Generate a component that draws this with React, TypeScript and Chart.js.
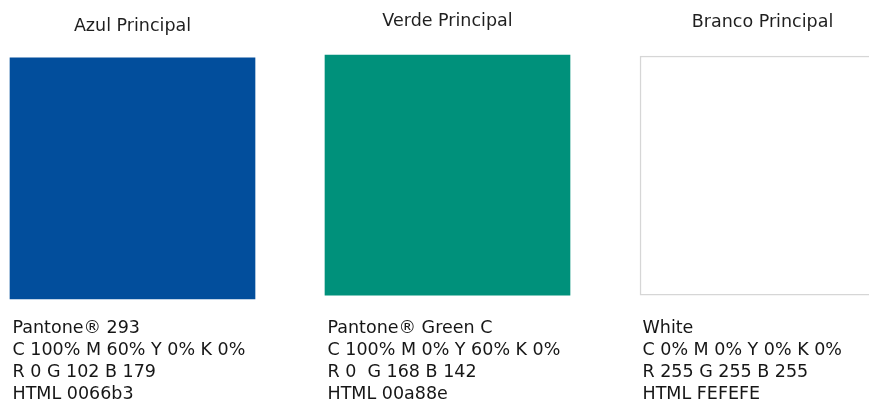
import React, { useEffect, useRef } from 'react';
import { Chart, registerables } from 'chart.js';

Chart.register(...registerables);

// ---- data ----
const swatchNames = ['Azul Principal', 'Verde Principal', 'Branco Principal'];
const swatchColors = ['#024e9c', '#00917b', '#ffffff'];
const swatchBorders = ['#024e9c', '#00917b', '#d6d6d6'];
// vertical extent of each swatch, as % of the swatch band
const swatchBottoms = [0, 1.6, 1.6];
const swatchTops = [98.8, 100, 99.6];
const pantoneLines = ['Pantone® 293', 'Pantone® Green C', 'White'];
const cmykLines = ['C 100% M 60% Y 0% K 0%', 'C 100% M 0% Y 60% K 0%', 'C 0% M 0% Y 0% K 0%'];
const rgbLines = ['R 0 G 102 B 179', 'R 0  G 168 B 142', 'R 255 G 255 B 255'];
const htmlLines = ['HTML 0066b3', 'HTML 00a88e', 'HTML FEFEFE'];

// ---- styles ----
const FONT = "'DejaVu Sans', sans-serif";
const titleLineHeights = [40, 48.6, 46.6];

const fitHeight = (h: number) => (scale: any) => {
  scale.height = h;
  scale.paddingLeft = 0;
  scale.paddingRight = 0;
};

export default function App() {
  const canvasRef = useRef<HTMLCanvasElement | null>(null);

  useEffect(() => {
    document.body.style.margin = '0';
    const canvas = canvasRef.current;
    if (!canvas) return;
    const chart = new Chart(canvas, {
      type: 'bar',
      data: {
        labels: swatchNames,
        datasets: [
          {
            data: swatchNames.map((_, i) => [swatchBottoms[i], swatchTops[i]]) as any,
            backgroundColor: swatchColors,
            borderColor: swatchBorders,
            borderWidth: [0, 0, 1.5] as any,
            borderSkipped: false,
            barThickness: 245,
            clip: false as any,
            xAxisID: 'x',
            yAxisID: 'y',
          },
        ],
      },
      options: {
        animation: false,
        responsive: true,
        maintainAspectRatio: false,
        events: [],
        layout: { padding: { left: 132.5, right: 106.5, top: 0, bottom: 0 } },
        plugins: {
          legend: { display: false },
          tooltip: { enabled: false },
          title: { display: false },
        },
        scales: {
          xTop: {
            type: 'category',
            position: 'top',
            offset: false,
            grid: { display: false, drawTicks: false },
            border: { display: false },
            ticks: {
              autoSkip: false,
              maxRotation: 0,
              minRotation: 0,
              padding: 9,
              color: '#1f1f1f',
              font: (ctx: any) => ({
                family: FONT,
                size: 17.5,
                lineHeight: titleLineHeights[ctx.index] + 'px',
              }),
            },
            afterFit: fitHeight(55),
          } as any,
          x: {
            type: 'category',
            position: 'bottom',
            offset: false,
            grid: { display: false, drawTicks: false },
            border: { display: false },
            ticks: {
              autoSkip: false,
              maxRotation: 0,
              minRotation: 0,
              padding: 18,
              align: 'start',
              labelOffset: -120,
              color: '#161616',
              font: { family: FONT, size: 17.5, lineHeight: '22px' },
              callback: (_v: any, i: number) => [pantoneLines[i], cmykLines[i], rgbLines[i], htmlLines[i]],
            },
            afterFit: fitHeight(106),
          } as any,
          y: {
            type: 'linear',
            display: false,
            min: 0,
            max: 100,
          },
        },
      },
    });
    return () => chart.destroy();
  }, []);

  return (
    <div style={{ position: 'relative', width: 869, height: 405 }}>
      <canvas ref={canvasRef} />
    </div>
  );
}
